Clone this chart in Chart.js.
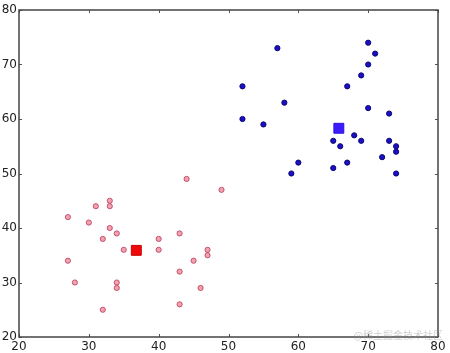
<!DOCTYPE html>
<html>
<head>
<meta charset="utf-8">
<script src="https://cdn.jsdelivr.net/npm/chart.js@4/dist/chart.umd.min.js"></script>
<style>
  html, body { margin: 0; padding: 0; background: #fff; }
  #wrap { width: 450px; height: 353px; }
</style>
</head>
<body>
<div id="wrap"><canvas id="grafica"></canvas></div>
<script>
// puntos del grupo rojo (x, y)
var rojoX = [44, 49, 27, 31, 33, 33, 30, 33, 34, 32, 35, 27, 28, 34, 34, 32, 40, 40, 43, 43, 43, 45, 47, 47, 46];
var rojoY = [49, 47, 42, 44, 45, 44, 41, 40, 39, 38, 36, 34, 30, 30, 29, 25, 38, 36, 39, 32, 26, 34, 36, 35, 29];
// puntos del grupo azul (x, y)
var azulX = [52, 57, 58, 52, 55, 60, 59, 65, 65, 66, 67, 67, 68, 69, 69, 70, 70, 71, 70, 73, 72, 73, 74, 74, 74];
var azulY = [66, 73, 63, 60, 59, 52, 50, 51, 56, 55, 52, 66, 57, 56, 68, 70, 74, 72, 62, 61, 53, 56, 55, 54, 50];
// centroides
var centroRojo = [36.8, 35.9];
var centroAzul = [65.8, 58.3];
// marcas de los ejes
var ticksX = [20, 30, 40, 50, 60, 70, 80];
var ticksY = [20, 30, 40, 50, 60, 70, 80];

function puntos(xs, ys) {
    return xs.map(function (x, i) { return { x: x, y: ys[i] }; });
}

// marco y marcas hacia dentro (estilo matplotlib)
var marco = {
    id: "marco",
    afterDatasetsDraw: function (chart) {
        var c = chart.ctx, a = chart.chartArea;
        var sx = chart.scales.x, sy = chart.scales.y;
        c.save();
        c.strokeStyle = "#555";
        c.lineWidth = 1;
        ticksX.forEach(function (t) {
            var px = Math.round(sx.getPixelForValue(t)) + 0.5;
            c.beginPath();
            c.moveTo(px, a.bottom); c.lineTo(px, a.bottom - 3);
            c.moveTo(px, a.top); c.lineTo(px, a.top + 3);
            c.stroke();
        });
        ticksY.forEach(function (t) {
            var py = Math.round(sy.getPixelForValue(t)) + 0.5;
            c.beginPath();
            c.moveTo(a.left, py); c.lineTo(a.left + 3, py);
            c.moveTo(a.right, py); c.lineTo(a.right - 3, py);
            c.stroke();
        });
        c.strokeStyle = "#444";
        c.lineWidth = 1.5;
        c.strokeRect(a.left, a.top, a.right - a.left, a.bottom - a.top);
        // marca de agua
        c.font = "10px 'Noto Sans CJK SC'";
        c.fillStyle = "rgba(150,150,150,0.45)";
        c.textAlign = "right";
        c.textBaseline = "alphabetic";
        c.fillText("@稀土掘金技术社区", 443, 339);
        c.restore();
    }
};

var ctx = document.getElementById("grafica").getContext("2d");
var chart = new Chart(ctx, {
    type: "scatter",
    data: {
        datasets: [{
            label: "centro azul",
            data: [{ x: centroAzul[0], y: centroAzul[1] }],
            pointStyle: "rect",
            pointRadius: 7,
            backgroundColor: "#3a1cff",
            borderColor: "#2a10e0",
            borderWidth: 1
        }, {
            label: "centro rojo",
            data: [{ x: centroRojo[0], y: centroRojo[1] }],
            pointStyle: "rect",
            pointRadius: 7,
            backgroundColor: "#ee0a0a",
            borderColor: "#cc0000",
            borderWidth: 1
        }, {
            label: "azul",
            data: puntos(azulX, azulY),
            pointRadius: 2.6,
            backgroundColor: "#1a10c8",
            borderColor: "#0c0670",
            borderWidth: 1
        }, {
            label: "rojo",
            data: puntos(rojoX, rojoY),
            pointRadius: 2.6,
            backgroundColor: "rgba(236,130,150,0.75)",
            borderColor: "rgba(180,50,80,0.75)",
            borderWidth: 1
        }]
    },
    options: {
        responsive: true,
        maintainAspectRatio: false,
        animation: false,
        layout: { padding: { top: 10, right: 12, left: 0, bottom: 0 } },
        plugins: { legend: { display: false }, tooltip: { enabled: false } },
        scales: {
            x: {
                type: "linear",
                min: 20, max: 80,
                afterFit: function (s) { s.height = 16; },
                grid: { display: false, drawTicks: false },
                border: { display: false },
                ticks: {
                    stepSize: 10, padding: 3,
                    color: "#222",
                    font: { family: "'DejaVu Sans'", size: 12 },
                    maxRotation: 0
                }
            },
            y: {
                type: "linear",
                min: 20, max: 80,
                afterFit: function (s) { s.width = 19; },
                grid: { display: false, drawTicks: false },
                border: { display: false },
                ticks: {
                    stepSize: 10, padding: 2,
                    color: "#222",
                    font: { family: "'DejaVu Sans'", size: 12 }
                }
            }
        }
    },
    plugins: [marco]
});
</script>
</body>
</html>
